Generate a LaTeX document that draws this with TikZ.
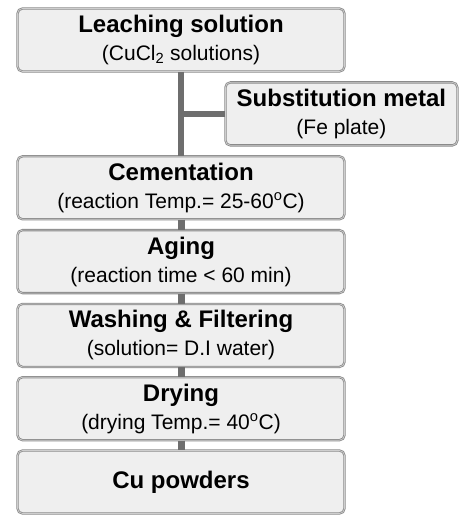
\documentclass[tikz,border=0pt]{standalone}
\usepackage{fontspec}
\setmainfont{Liberation Sans}
\usetikzlibrary{positioning}
\usetikzlibrary{calc}
\definecolor{boxfill}{HTML}{EFEFEF}
\definecolor{boxline}{HTML}{8A8A8A}
\definecolor{linkgray}{HTML}{6E6E6E}
\newcommand{\steptitle}[1]{{\fontsize{24}{28}\selectfont\bfseries #1}}

\begin{document}
\begin{tikzpicture}[x=1pt,y=1pt,
    stepbox/.style={draw=boxline,double=boxfill!70!gray,double distance=0.7pt,line width=0.8pt,
        fill=boxfill,rounded corners=5pt,align=center,minimum width=327pt,minimum height=63pt,
        inner sep=0pt,font=\fontsize{21}{28}\selectfont},
    link/.style={draw=linkgray,line width=6.5pt}]
        \useasboundingbox (0,0) rectangle (460,-521);

        \node[stepbox] (leach) at (181,-40) {\steptitle{Leaching solution}\\(CuCl\textsubscript{2} solutions)};
        \node[stepbox,below=84pt of leach] (cement) {\steptitle{Cementation}\\(reaction Temp.= 25-60\textsuperscript{o}C)};
        \node[stepbox,below=10pt of cement] (aging) {\steptitle{Aging}\\(reaction time < 60 min)};
        \node[stepbox,below=10pt of aging] (wash) {\steptitle{Washing \& Filtering}\\(solution= D.I water)};
        \node[stepbox,below=9.5pt of wash] (dry) {\steptitle{Drying}\\(drying Temp.= 40\textsuperscript{o}C)};
        \node[stepbox,below=9.5pt of dry] (cu) {\steptitle{Cu powders}};

        % side input
        \node[stepbox,anchor=west,minimum width=232pt] (subst) at ($(leach.south)!0.5!(cement.north)+(44,0)$)
            {\steptitle{Substitution metal}\\(Fe plate)};

        \draw[link] (leach.south) -- (cement.north);
        \draw[link] (subst.west) -- (subst.west -| leach.south);
        \foreach \a/\b in {cement/aging,aging/wash,wash/dry,dry/cu} {
            \draw[link,line width=7pt] (\a.south) -- (\b.north);
        }
    \end{tikzpicture}
\end{document}
